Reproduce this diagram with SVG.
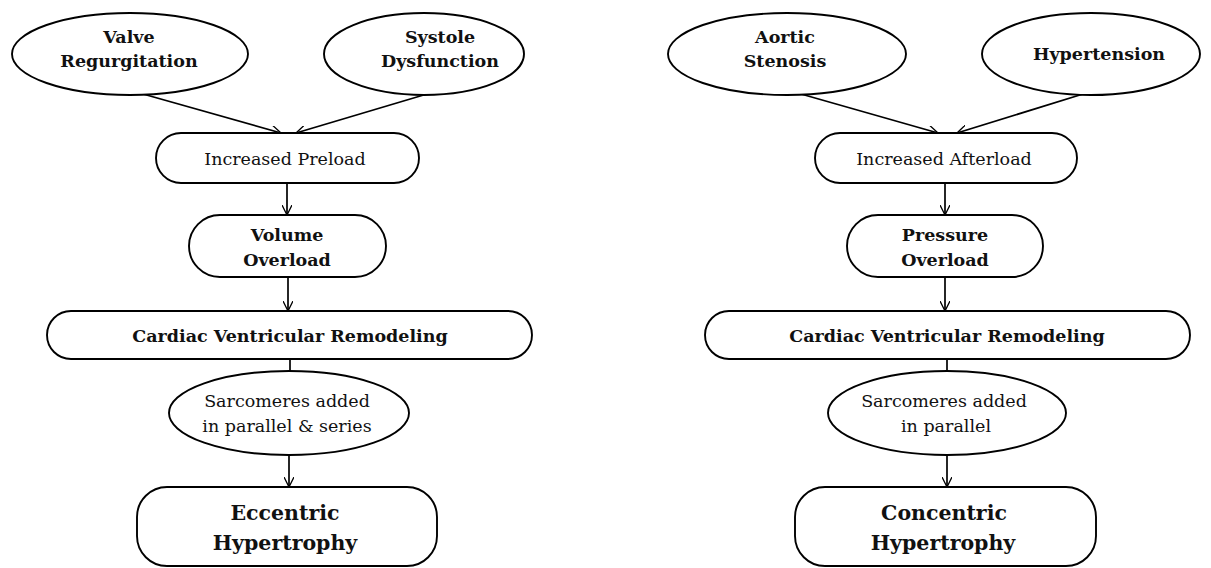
<svg xmlns="http://www.w3.org/2000/svg" width="1211" height="568" viewBox="0 0 1211 568">
<defs>
<marker id="arr" viewBox="0 0 10 10" refX="10" refY="5" markerWidth="10" markerHeight="10" markerUnits="userSpaceOnUse" orient="auto">
<path d="M0,0 L10,5 L0,10" fill="none" stroke="#000" stroke-width="1.3"/>
</marker>
<style>
.n{fill:#fff;stroke:#000;stroke-width:1.9}
.c line{stroke:#000;stroke-width:1.7}
text{font-family:"DejaVu Serif",serif;text-anchor:middle;fill:#111}
.b{font-weight:bold;font-size:17.5px}
.r{font-size:17.5px}
.l{font-weight:bold;font-size:20.5px}
</style>
</defs>
<rect width="1211" height="568" fill="#fff"/>
<g class="c" id="connectors">
<line x1="143" y1="94" x2="281" y2="133" marker-end="url(#arr)"/>
<line x1="427" y1="94" x2="296" y2="133" marker-end="url(#arr)"/>
<line x1="287" y1="183" x2="287" y2="215" marker-end="url(#arr)"/>
<line x1="288" y1="277" x2="288" y2="311" marker-end="url(#arr)"/>
<line x1="290" y1="359" x2="290" y2="372"/>
<line x1="289" y1="455" x2="289" y2="487" marker-end="url(#arr)"/>
<line x1="801" y1="94" x2="938" y2="133" marker-end="url(#arr)"/>
<line x1="1083" y1="94" x2="957" y2="133" marker-end="url(#arr)"/>
<line x1="945" y1="183" x2="945" y2="215" marker-end="url(#arr)"/>
<line x1="945" y1="277" x2="945" y2="311" marker-end="url(#arr)"/>
<line x1="947" y1="359" x2="947" y2="372"/>
<line x1="947" y1="455" x2="947" y2="487" marker-end="url(#arr)"/>
</g>
<g id="valve"><ellipse class="n" cx="130" cy="54" rx="118" ry="41"/><text class="b" x="129" y="43">Valve</text><text class="b" x="129" y="67">Regurgitation</text></g>
<g id="systole"><ellipse class="n" cx="424" cy="54" rx="100" ry="41"/><text class="b" x="440" y="43">Systole</text><text class="b" x="440" y="67">Dysfunction</text></g>
<g id="preload"><rect class="n" x="156" y="133" width="263" height="50" rx="25"/><text class="r" x="285" y="165">Increased Preload</text></g>
<g id="volume"><rect class="n" x="189" y="215" width="197" height="62" rx="31"/><text class="b" x="287" y="241">Volume</text><text class="b" x="287" y="266">Overload</text></g>
<g id="remodelingL"><rect class="n" x="47" y="311" width="485" height="48" rx="24"/><text class="b" x="290" y="342">Cardiac Ventricular Remodeling</text></g>
<g id="sarcL"><ellipse class="n" cx="289" cy="413" rx="120" ry="42"/><text class="r" x="287" y="407">Sarcomeres added</text><text class="r" x="287" y="432">in parallel &amp; series</text></g>
<g id="eccentric"><rect class="n" x="137" y="487" width="300" height="79" rx="30"/><text class="l" x="285" y="520">Eccentric</text><text class="l" x="285" y="550">Hypertrophy</text></g>
<g id="aortic"><ellipse class="n" cx="787" cy="54" rx="119" ry="41"/><text class="b" x="785" y="43">Aortic</text><text class="b" x="785" y="67">Stenosis</text></g>
<g id="hypertension"><ellipse class="n" cx="1091" cy="54" rx="109" ry="41"/><text class="b" x="1099" y="60">Hypertension</text></g>
<g id="afterload"><rect class="n" x="815" y="133" width="262" height="50" rx="25"/><text class="r" x="944" y="165">Increased Afterload</text></g>
<g id="pressure"><rect class="n" x="847" y="215" width="196" height="62" rx="31"/><text class="b" x="945" y="241">Pressure</text><text class="b" x="945" y="266">Overload</text></g>
<g id="remodelingR"><rect class="n" x="705" y="311" width="485" height="48" rx="24"/><text class="b" x="947" y="342">Cardiac Ventricular Remodeling</text></g>
<g id="sarcR"><ellipse class="n" cx="947" cy="413" rx="119" ry="42"/><text class="r" x="944" y="407">Sarcomeres added</text><text class="r" x="946" y="432">in parallel</text></g>
<g id="concentric"><rect class="n" x="795" y="487" width="301" height="79" rx="30"/><text class="l" x="944" y="520">Concentric</text><text class="l" x="943" y="550">Hypertrophy</text></g>
</svg>
